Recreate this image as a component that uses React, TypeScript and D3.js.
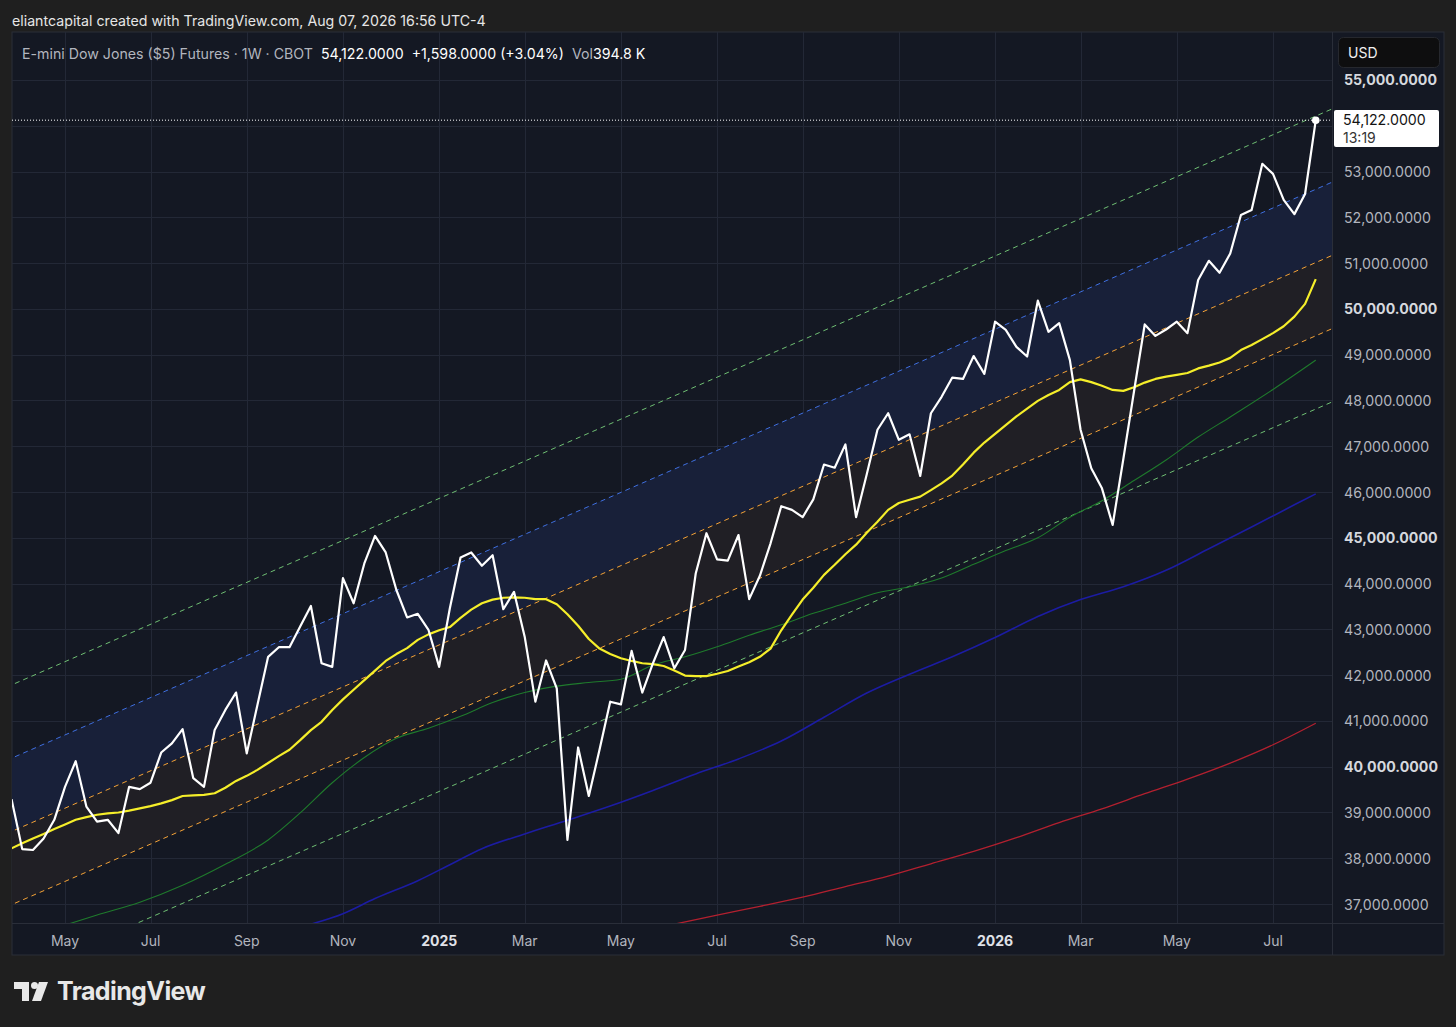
import * as d3 from "d3";

// weekly bars, first bar Monday 2024-04-01
const firstWeek = Date.UTC(2024, 3, 1);
const WEEK = 7 * 86400000;

// weekly closes
const closes = [
  39290, 38200, 38180, 38430, 38840, 39560, 40120, 39130, 38800, 38840,
  38550, 39560, 39510, 39650, 40310, 40510, 40820, 39750, 39560, 40800,
  41240, 41620, 40290, 41350, 42400, 42610, 42610, 43060, 43510, 42260,
  42180, 44120, 43570, 44440, 45040, 44680, 43860, 43260, 43340, 42990,
  42180, 43460, 44570, 44680, 44390, 44620, 43440, 43820, 42840, 41420,
  42320, 41710, 38400, 40420, 39360, 40370, 41420, 41360, 42530, 41620,
  42260, 42830, 42150, 42550, 44220, 45100, 44530, 44500, 45060, 43660,
  44170, 44880, 45690, 45610, 45450, 45840, 46600, 46530, 47040, 45450,
  46390, 47360, 47720, 47140, 47260, 46350, 47720, 48080, 48500, 48470,
  48970, 48580, 49720, 49540, 49170, 48960, 50180, 49500, 49690, 48880,
  47360, 46520, 46080, 45280, 46720, 48200, 49660, 49410, 49550, 49720,
  49470, 50630, 51050, 50790, 51210, 52050, 52160, 53170, 52950, 52380,
  52070, 52510, 54122,
];

// yellow moving average, one value per week
const maFast = [
  38217, 38330, 38430, 38530, 38640, 38740, 38840, 38900, 38950, 38980,
  39000, 39040, 39090, 39140, 39200, 39270, 39360, 39375, 39385, 39420,
  39540, 39690, 39800, 39930, 40080, 40230, 40370, 40580, 40800, 40980,
  41240, 41470, 41680, 41890, 42100, 42310, 42460, 42590, 42770, 42890,
  42980, 43050, 43250, 43430, 43570, 43650, 43690, 43700, 43690, 43660,
  43660, 43550, 43330, 43080, 42790, 42580, 42460, 42370, 42310, 42260,
  42240, 42200, 42100, 41990, 41980, 41980, 42030, 42090, 42190, 42280,
  42400, 42580, 42980, 43320, 43650, 43910, 44190, 44410, 44640, 44850,
  45110, 45350, 45610, 45760, 45830, 45900, 46040, 46190, 46360, 46600,
  46860, 47080, 47270, 47460, 47650, 47820, 47990, 48120, 48230, 48400,
  48460, 48400, 48320, 48230, 48210, 48290, 48390, 48470, 48520, 48560,
  48600, 48700, 48760, 48830, 48930, 49100, 49210, 49340, 49470, 49620,
  49830, 50110, 50650,
];

// slower averages, sampled at the listed week numbers
const maGreenWeeks = [5, 8, 12, 16, 20, 24, 27, 30, 33, 36, 39, 42, 45, 48, 51, 54, 57, 60, 63, 66, 69, 72, 75, 78, 81, 84, 87, 90, 93, 96, 99, 102, 105, 108, 111, 114, 118, 122];
const maGreen = [36540, 36760, 37040, 37410, 37870, 38400, 38990, 39650, 40200, 40620, 40840, 41100, 41400, 41620, 41760, 41840, 41910, 42220, 42400, 42620, 42870, 43100, 43350, 43570, 43800, 43930, 44120, 44420, 44720, 45000, 45450, 45810, 46250, 46700, 47200, 47640, 48240, 48880];

const maNavyWeeks = [28, 31, 34, 38, 41, 44, 48, 52, 56, 60, 64, 68, 72, 76, 80, 84, 88, 92, 96, 100, 104, 108, 112, 116, 120, 122];
const maNavy = [36560, 36790, 37120, 37510, 37860, 38210, 38530, 38830, 39140, 39480, 39840, 40170, 40560, 41080, 41610, 42020, 42400, 42820, 43280, 43650, 43930, 44290, 44760, 45236, 45720, 45960];

const maRedWeeks = [62, 66, 70, 74, 78, 82, 86, 90, 94, 98, 102, 106, 110, 114, 118, 122];
const maRed = [36560, 36760, 36950, 37150, 37380, 37610, 37880, 38150, 38450, 38780, 39080, 39410, 39730, 40080, 40480, 40950];

// regression channel: mid line at two anchor weeks, bands as offsets
const channelWeeks = [0, 123];
const channelMid = [37785, 50314];
const channelOffsets = [4000, 2400, 800, -800, -2400];
const channelColors = ["#6fbf73", "#3f6fe0", "#f5a337", "#f5a337", "#6fbf73"];

const monthTicks = [
  ["May", "2024-05-06"], ["Jul", "2024-07-01"], ["Sep", "2024-09-02"], ["Nov", "2024-11-04"],
  ["2025", "2025-01-06"], ["Mar", "2025-03-03"], ["May", "2025-05-05"], ["Jul", "2025-07-07"],
  ["Sep", "2025-09-01"], ["Nov", "2025-11-03"], ["2026", "2026-01-05"], ["Mar", "2026-03-02"],
  ["May", "2026-05-04"], ["Jul", "2026-07-06"],
];
const priceTicks = d3.range(37000, 55001, 1000);

const lastPrice = 54122;

const W = 1456;
const H = 1027;
const pane = { left: 12, top: 32, right: 1444, bottom: 955 };
const plot = { left: 12, top: 32, right: 1332, bottom: 923 };

const FONT = "Inter, Roboto, 'DejaVu Sans', sans-serif";
const BG = "#1f1f1f";
const PANE = "#141823";
const GRID = "#232836";
const AXIS_TEXT = "#b2b5be";

const weekDate = (i: number) => new Date(firstWeek + i * WEEK);
const fmt = d3.format(",.4f");

export default function App() {
  const x = d3
    .scaleUtc()
    .domain([new Date(Date.UTC(2024, 4, 6)), new Date(Date.UTC(2026, 6, 6))])
    .range([65, 1273]);
  const y = d3.scaleLinear().domain([36586, 56048]).range([plot.bottom, plot.top]);

  const smooth = d3
    .line<[number, number]>()
    .x((d) => x(weekDate(d[0])))
    .y((d) => y(d[1]))
    .curve(d3.curveMonotoneX);
  const straight = d3
    .line<[number, number]>()
    .x((d) => x(weekDate(d[0])))
    .y((d) => y(d[1]));

  const closePts = closes.map((v, i) => [i, v] as [number, number]);
  const fastPts = maFast.map((v, i) => [i, v] as [number, number]);
  const greenPts = maGreenWeeks.map((w, i) => [w, maGreen[i]] as [number, number]);
  const navyPts = maNavyWeeks.map((w, i) => [w, maNavy[i]] as [number, number]);
  const redPts = maRedWeeks.map((w, i) => [w, maRed[i]] as [number, number]);

  const mid = d3.scaleLinear().domain(channelWeeks).range(channelMid);
  const span = [-2, 126];
  const chanLine = (off: number) =>
    straight(span.map((w) => [w, mid(w) + off] as [number, number])) ?? "";
  const band = (hi: number, lo: number) =>
    d3
      .area<number>()
      .x((w) => x(weekDate(w)))
      .y0((w) => y(mid(w) + lo))
      .y1((w) => y(mid(w) + hi))(span) ?? "";

  const lastX = x(weekDate(closes.length - 1));
  const lastY = y(lastPrice);
  // the last-price tag covers whichever axis label sits under it
  const axisLabels = priceTicks.filter((p) => Math.abs(y(p) - (lastY + 8)) > 22);

  return (
    <svg
      width={W}
      height={H}
      style={{ position: "absolute", left: 0, top: 0, display: "block", background: BG }}
      fontFamily={FONT}
    >
      <rect width={W} height={H} fill={BG} />
      <text x={12} y={20} fill="#e6e6e6" fontSize={14.2} dominantBaseline="central">
        eliantcapital created with TradingView.com, Aug 07, 2026 16:56 UTC-4
      </text>

      <rect
        x={pane.left}
        y={pane.top}
        width={pane.right - pane.left}
        height={pane.bottom - pane.top}
        fill={PANE}
        stroke="#2a2e39"
      />

      <defs>
        <clipPath id="plot-clip">
          <rect x={plot.left} y={plot.top} width={plot.right - plot.left} height={plot.bottom - plot.top} />
        </clipPath>
      </defs>

      {/* grid */}
      <g stroke={GRID} strokeWidth={1}>
        {monthTicks.map(([, d]) => {
          const xx = Math.round(x(new Date(d + "T00:00:00Z"))) + 0.5;
          return <line key={d} x1={xx} x2={xx} y1={plot.top} y2={plot.bottom} />;
        })}
        {priceTicks.map((p) => {
          const yy = Math.round(y(p)) + 0.5;
          return <line key={p} x1={plot.left} x2={plot.right} y1={yy} y2={yy} />;
        })}
      </g>

      <g clipPath="url(#plot-clip)">
        <path d={band(channelOffsets[1], channelOffsets[2])} fill="#182039" />
        <path d={band(channelOffsets[2], channelOffsets[3])} fill="#201f25" />
        {channelOffsets.map((off, i) => (
          <path
            key={off}
            d={chanLine(off)}
            fill="none"
            stroke={channelColors[i]}
            strokeWidth={1}
            strokeDasharray="5 4"
          />
        ))}
        <path d={smooth(redPts) ?? ""} fill="none" stroke="#b3202f" strokeWidth={1.3} />
        <path d={smooth(navyPts) ?? ""} fill="none" stroke="#1c1ca3" strokeWidth={1.6} />
        <path d={smooth(greenPts) ?? ""} fill="none" stroke="#1f7a2c" strokeWidth={1.1} />
        <path d={straight(fastPts) ?? ""} fill="none" stroke="#f5ee2a" strokeWidth={2.2} strokeLinejoin="round" />
        <path d={straight(closePts) ?? ""} fill="none" stroke="#ffffff" strokeWidth={2.2} strokeLinejoin="round" />
      </g>

      <line
        x1={plot.left}
        x2={plot.right}
        y1={lastY}
        y2={lastY}
        stroke="#ffffff"
        strokeWidth={1}
        strokeDasharray="1 2"
      />
      <circle cx={lastX} cy={lastY} r={3.8} fill="#ffffff" />

      {/* title */}
      <text x={22} y={53} fontSize={14.2} dominantBaseline="central">
        <tspan fill={AXIS_TEXT}>E-mini Dow Jones ($5) Futures · 1W · CBOT</tspan>
        <tspan fill="#ffffff" dx={8}>{fmt(lastPrice)}</tspan>
        <tspan fill="#ffffff" dx={8}>+1,598.0000 (+3.04%)</tspan>
        <tspan fill={AXIS_TEXT} dx={8}>Vol</tspan>
        <tspan fill="#ffffff">394.8 K</tspan>
      </text>

      {/* axes separators */}
      <line x1={plot.right + 0.5} x2={plot.right + 0.5} y1={pane.top} y2={pane.bottom} stroke="#2a2e39" />
      <line x1={pane.left} x2={pane.right} y1={plot.bottom + 0.5} y2={plot.bottom + 0.5} stroke="#2a2e39" />

      {/* price axis */}
      {axisLabels.map((p) => (
        <text
          key={p}
          x={1344}
          y={y(p)}
          fontSize={14.2}
          fill={p % 5000 === 0 ? "#d6d8de" : AXIS_TEXT}
          fontWeight={p % 5000 === 0 ? 700 : 400}
          dominantBaseline="central"
        >
          {fmt(p)}
        </text>
      ))}

      {/* time axis */}
      {monthTicks.map(([lab, d]) => {
        const bold = /^\d+$/.test(lab);
        return (
          <text
            key={d}
            x={x(new Date(d + "T00:00:00Z"))}
            y={940}
            fontSize={14}
            textAnchor="middle"
            dominantBaseline="central"
            fill={bold ? "#e0e2e8" : AXIS_TEXT}
            fontWeight={bold ? 700 : 400}
          >
            {lab}
          </text>
        );
      })}

      {/* currency chip */}
      <rect x={1338.5} y={37.5} width={101} height={30} rx={5} fill="#0e0e0f" stroke="#26282e" />
      <text x={1348} y={52.5} fontSize={14} fill="#f0f0f0" dominantBaseline="central">
        USD
      </text>

      {/* last price tag */}
      <rect x={1334} y={110} width={105} height={37} rx={2} fill="#ffffff" />
      <text x={1343} y={119.5} fontSize={14.2} fill="#131313" dominantBaseline="central">
        {fmt(lastPrice)}
      </text>
      <text x={1343} y={137} fontSize={14} fill="#333333" dominantBaseline="central">
        13:19
      </text>

      {/* TradingView logo */}
      <g fill="#e8e8e8">
        <path d="M14 982 H29 V1001 H22 V989 H14 Z" />
        <circle cx={34.5} cy={985.5} r={3.5} />
        <path d="M39 982 H48 L41 1001 H32 Z" />
        <text x={57} y={991} fontSize={25} fontWeight={700} dominantBaseline="central" letterSpacing={-0.6}>
          TradingView
        </text>
      </g>
    </svg>
  );
}
